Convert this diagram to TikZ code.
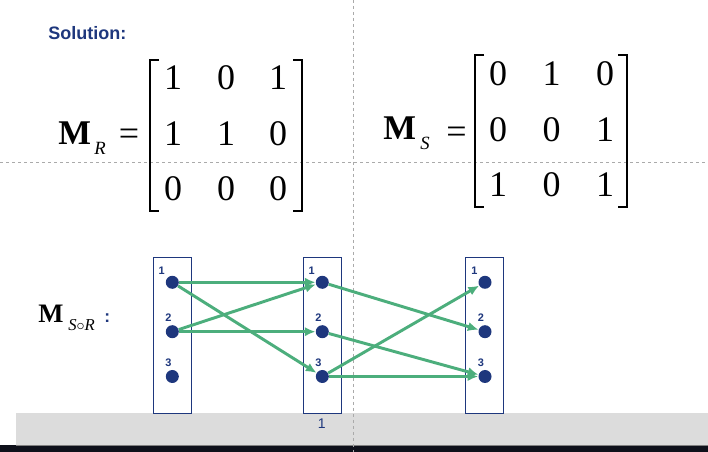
\documentclass[tikz,border=0pt]{standalone}
\usepackage{fontspec}
\setmainfont{Liberation Serif}
\setsansfont{Liberation Sans}
\usetikzlibrary{arrows.meta}

\definecolor{navy}{RGB}{30,55,125}
\definecolor{arrowgreen}{RGB}{76,174,124}
\definecolor{guide}{RGB}{170,170,170}
\definecolor{band}{RGB}{220,220,220}
\definecolor{strip}{RGB}{14,16,26}

\tikzset{
  dot/.style={circle,fill=navy,draw=none,minimum size=9.75pt,inner sep=0pt},
  setbox/.style={draw=navy,line width=0.9pt,minimum width=28.5pt,minimum height=117pt,inner sep=0pt},
  num/.style={inner sep=0pt,font=\fontsize{27}{27}\selectfont},
  lbl/.style={text=navy,inner sep=0.5pt,font=\sffamily\bfseries\fontsize{8.2}{8.2}\selectfont},
  maparrow/.style={arrowgreen,line width=2.2pt,-{Latex[length=8pt,width=7pt]}},
  brk/.style={line width=1.6pt},
  guideline/.style={guide,line width=0.75pt,dash pattern=on 2.25pt off 2.25pt},
}

\begin{document}
\begin{tikzpicture}[x=0.75pt,y=-0.75pt]
\useasboundingbox (0,0) rectangle (708,452);
\fill[white] (0,0) rectangle (708,452);
\fill[band] (16,413) rectangle (708,445.5);
\fill[strip] (0,445.5) rectangle (708,452);
\draw[gray,line width=0.75pt] (16,445.5) -- (708,445.5);
\draw[guideline] (0,163) -- (708,163);
\draw[guideline] (353,0) -- (353,452);

\node[anchor=base west,inner sep=0pt,text=navy,font=\sffamily\bfseries\fontsize{13.5}{13.5}\selectfont] (sol) at (48,40) {Solution:};

% M_R
\node[anchor=base west,inner sep=0pt,font=\fontsize{26}{26}\selectfont] (mr) at (58,145) {\textbf{M}};
\node[anchor=base west,inner sep=0pt,font=\fontsize{14}{14}\selectfont] (mrsub) at (94,155) {\textit{R}};
\node[anchor=base,inner sep=0pt,font=\fontsize{27}{27}\selectfont] (mreq) at (129,145.5) {=};
\draw[brk] (159,60) -- (150,60) -- (150,211) -- (159,211);
\draw[brk] (293,60) -- (302,60) -- (302,211) -- (293,211);
\foreach \y/\a/\b/\c [count=\i] in {77.5/1/0/1,134/1/1/0,188.5/0/0/0}{
  \node[num] (r\i1) at (173,\y) {\a};
  \node[num] (r\i2) at (226,\y) {\b};
  \node[num] (r\i3) at (278,\y) {\c};
}

% M_S
\node[anchor=base west,inner sep=0pt,font=\fontsize{26}{26}\selectfont] (ms) at (383,140) {\textbf{M}};
\node[anchor=base west,inner sep=0pt,font=\fontsize{14}{14}\selectfont] (mssub) at (420,150) {\textit{S}};
\node[anchor=base,inner sep=0pt,font=\fontsize{27}{27}\selectfont] (mseq) at (456.5,143.5) {=};
\draw[brk] (484,55) -- (475,55) -- (475,207) -- (484,207);
\draw[brk] (618,55) -- (627,55) -- (627,207) -- (618,207);
\foreach \y/\a/\b/\c [count=\i] in {74/0/1/0,130/0/0/1,185/1/0/1}{
  \node[num] (s\i1) at (498,\y) {\a};
  \node[num] (s\i2) at (551.5,\y) {\b};
  \node[num] (s\i3) at (605,\y) {\c};
}

% M_{S o R}
\node[anchor=base west,inner sep=0pt,font=\fontsize{20}{20}\selectfont] (msr) at (38,323) {\textbf{M}};
\node[anchor=base west,inner sep=0pt,font=\fontsize{12.5}{12.5}\selectfont] (msrsub) at (68,331) {\textit{S}$\circ$\textit{R}};
\node[anchor=base west,inner sep=0pt,text=navy,font=\sffamily\bfseries\fontsize{13}{13}\selectfont] (colon) at (104,323) {:};

\node[setbox] (lbox) at (172.5,335.3) {};
\node[setbox] (mbox) at (322.3,335.3) {};
\node[setbox] (rbox) at (484.7,335.3) {};

\node[dot] (a1) at (172.3,282.3) [label={[lbl,label distance=2pt]above left:1}] {};
\node[dot] (a2) at (172.3,331.7) [label={[lbl,label distance=1.5pt,xshift=-3pt]above:2}] {};
\node[dot] (a3) at (172.3,376.5) [label={[lbl,label distance=1.5pt,xshift=-3pt]above:3}] {};
\node[dot] (b1) at (322.3,282.3) [label={[lbl,label distance=2pt]above left:1}] {};
\node[dot] (b2) at (322.3,331.7) [label={[lbl,label distance=1.5pt,xshift=-3pt]above:2}] {};
\node[dot] (b3) at (322.3,376.5) [label={[lbl,label distance=1.5pt,xshift=-3pt]above:3}] {};
\node[dot] (c1) at (485,282.3) [label={[lbl,label distance=2pt]above left:1}] {};
\node[dot] (c2) at (485,331.7) [label={[lbl,label distance=1.5pt,xshift=-3pt]above:2}] {};
\node[dot] (c3) at (485,376.5) [label={[lbl,label distance=1.5pt,xshift=-3pt]above:3}] {};

\draw[maparrow] (a1) -- (b1);
\draw[maparrow] (a1) -- (b3);
\draw[maparrow] (a2) -- (b1);
\draw[maparrow] (a2) -- (b2);
\draw[maparrow] (b1) -- (c2);
\draw[maparrow] (b2) -- (c3);
\draw[maparrow] (b3) -- (c1);
\draw[maparrow] (b3) -- (c3);

\node[anchor=base,inner sep=0pt,text=navy,font=\sffamily\fontsize{10.5}{10.5}\selectfont] (page) at (321.7,429) {1};
\end{tikzpicture}
\end{document}
